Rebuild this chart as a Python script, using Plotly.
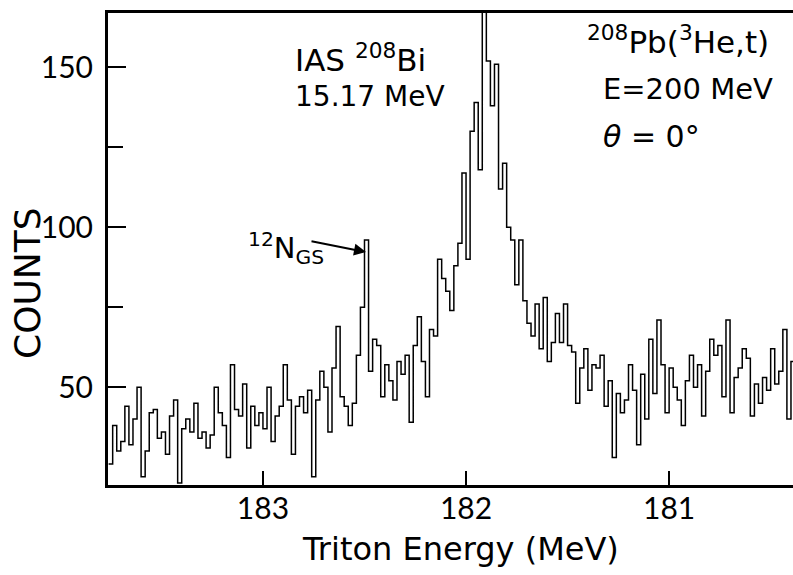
import plotly.graph_objects as go

# ---- data ----
energy_start = 183.76   # MeV, high-energy edge of first channel (left side of plot)
channel_width = 0.02    # MeV per channel
counts = [
    26, 38, 30, 33, 44, 32, 40, 50, 22, 30,
    42, 43, 34, 36, 29, 41, 46, 20, 37, 40,
    36, 45, 34, 36, 31, 35, 50, 42, 38, 28,
    57, 43, 41, 51, 31, 44, 38, 42, 37, 50,
    33, 41, 44, 57, 46, 29, 44, 47, 42, 49,
    22, 46, 55, 50, 36, 56, 69, 47, 44, 38,
    45, 60, 75, 96, 55, 65, 63, 47, 57, 52,
    46, 58, 54, 60, 39, 63, 72, 58, 47, 68,
    66, 90, 84, 80, 74, 88, 95, 117, 90, 130,
    139, 118, 168, 152, 138, 151, 112, 120, 100, 96,
    82, 96, 77, 70, 66, 76, 62, 78, 58, 64,
    73, 64, 76, 63, 61, 45, 56, 62, 49, 57,
    56, 60, 44, 52, 28, 48, 42, 46, 57, 49,
    32, 54, 40, 65, 48, 71, 57, 42, 56, 50,
    46, 38, 52, 60, 50, 57, 41, 55, 65, 60,
    63, 47, 71, 42, 53, 56, 62, 59, 41, 51,
    45, 53, 49, 62, 51, 55, 68, 40, 58,
]
x_tick_vals = [183, 182, 181]
x_tick_text = ["183", "182", "181"]
y_tick_vals = [50, 100, 150]
y_tick_text = ["50", "100", "150"]

x_range = [183.763, 180.39]
y_range = [19.4, 167.0]

# channel edges and step values
edges = [energy_start - i * channel_width for i in range(len(counts) + 1)]
step_y = counts + [counts[-1]]

NUM_FONT = "Lato"
TXT_FONT = "DejaVu Sans"
W, H = 793, 575
L, R, T, B = 108, 0, 13, 90
PW, PH = W - L - R, H - T - B


def px(x):
    return (x - L) / PW


def py(y):
    return (H - B - y) / PH


fig = go.Figure()
fig.add_trace(go.Scatter(
    x=edges, y=step_y, mode="lines", line_shape="hv",
    line=dict(color="black", width=1.5), hoverinfo="skip", showlegend=False,
))

axis_font = dict(family=NUM_FONT, size=30, color="black")

fig.update_layout(
    width=W, height=H,
    margin=dict(l=L, r=R, t=T, b=B, pad=0),
    paper_bgcolor="white", plot_bgcolor="white",
    showlegend=False,
    xaxis=dict(
        range=x_range, tickvals=x_tick_vals, ticktext=x_tick_text,
        ticks="inside", ticklen=14, tickwidth=2, tickcolor="black",
        showline=True, linewidth=2.5, linecolor="black", mirror=True,
        showgrid=False, zeroline=False, tickfont=axis_font,
        ticklabelstandoff=-5,
    ),
    yaxis=dict(
        range=y_range, tickvals=y_tick_vals, ticktext=y_tick_text,
        ticks="inside", ticklen=18, tickwidth=2, tickcolor="black",
        minor=dict(tickvals=[75, 125], ticks="inside", ticklen=15,
                   tickwidth=2, tickcolor="black", showgrid=False),
        showline=True, linewidth=3, linecolor="black", mirror=False,
        showgrid=False, zeroline=False, tickfont=axis_font,
        ticklabelstandoff=6,
    ),
)

annots = []


def txt(text, x, y, size=30, xanchor="left", angle=0):
    annots.append(dict(
        text=text, xref="paper", yref="paper", x=px(x), y=py(y),
        xanchor=xanchor, yanchor="middle", showarrow=False,
        textangle=angle, font=dict(family=TXT_FONT, size=size, color="black"),
    ))


txt("COUNTS", 27, 283, size=36, xanchor="center", angle=-90)
txt("Triton Energy (MeV)", 460, 549, size=32, xanchor="center")
txt("IAS <sup>208</sup>Bi", 293, 58, size=31)
txt("15.17 MeV", 293, 97, size=28)
txt("<sup>208</sup>Pb(<sup>3</sup>He,t)", 585, 40, size=31)
txt("E=200 MeV", 601, 89, size=29)
txt("<i>θ</i> = 0°", 601, 136, size=30)
txt("<sup>12</sup>N<sub>GS</sub>", 246, 248, size=29)

annots.append(dict(
    x=px(366), y=py(252), xref="paper", yref="paper",
    ax=-56, ay=-11, axref="pixel", ayref="pixel",
    showarrow=True, arrowhead=2, arrowsize=1.2, arrowwidth=2,
    arrowcolor="black", text="",
))

fig.update_layout(annotations=annots)
fig.write_html("out.html")
